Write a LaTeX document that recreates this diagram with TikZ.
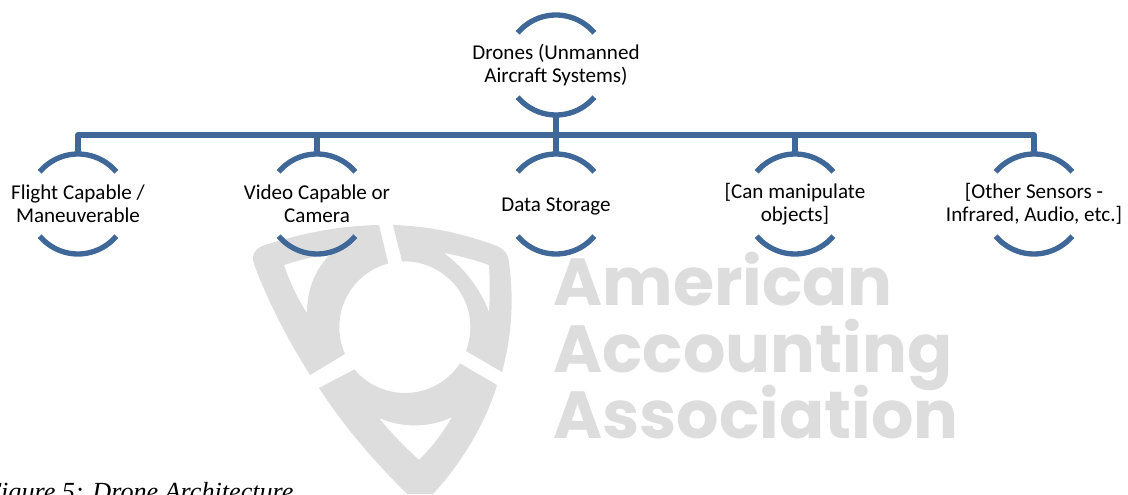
\documentclass[tikz,border=0pt]{standalone}
\usepackage{fontspec}
\setmainfont{Carlito}
\newfontfamily\markfont{Poppins}
\newfontfamily\capfont{Liberation Serif}
\definecolor{rimblue}{HTML}{3F6797}
\definecolor{markgray}{HTML}{DDDDDD}
\tikzset{
	hub/.style={circle,inner sep=0pt,minimum size=75pt},
	rim/.style={draw=rimblue,line width=4pt,line join=round},
	topic/.style={align=center,inner sep=0pt,font=\fontsize{15.8}{17}\selectfont},
	markline/.style={anchor=base west,inner sep=0pt,text=markgray,font=\markfont\bfseries\fontsize{50}{50}\selectfont},
	logopart/.style={fill=markgray,even odd rule}
}
\begin{document}
\begin{tikzpicture}[x=0.75pt,y=0.75pt]
	\useasboundingbox (0,0) rectangle (1128,494);
	% logo, written in picture pixels
	\begin{scope}[yshift=370.5pt,yscale=-1]
		\path[logopart] (379,225) .. controls (335,226) and (300,234) .. (265,245)
			.. controls (255,248) and (251,255) .. (254,264)
			.. controls (268,302) and (288,340) .. (310,375)
			-- (345,354) arc (156:255:66) -- cycle
			(284,265) .. controls (300,260) and (316,256) .. (332,253)
			.. controls (315,268) and (307,290) .. (307,313)
			.. controls (297,298) and (289,280) .. (284,265) -- cycle;
		\path[logopart] (393,225) .. controls (430,226) and (465,234) .. (497,246)
			.. controls (505,250) and (508,254) .. (509,262)
			.. controls (514,300) and (512,335) .. (502,372)
			-- (466,351) arc (21:-92:66) -- cycle
			(444,253) .. controls (460,256) and (475,260) .. (489,265)
			.. controls (490,280) and (490,296) .. (489,312)
			.. controls (480,288) and (464,268) .. (444,253) -- cycle;
		\path[logopart] (319,388) -- (354.4,369.4) arc (140:33.5:66) -- (497,385)
			.. controls (485,425) and (460,465) .. (433,494) -- (407,494)
			.. controls (375,462) and (345,428) .. (319,388) -- cycle
			(379,418) .. controls (402,428) and (430,428) .. (452,417)
			.. controls (443,433) and (432,447) .. (419,460)
			.. controls (405,447) and (391,433) .. (379,418) -- cycle;
	\end{scope}
	\node[markline] (american) at (553,189) {American};
	\node[markline] (accounting) at (553,122) {Accounting};
	\node[markline] (association) at (553,56) {Association};
	% chart
	\node[hub] (root) at (556,429) {};
	\node[hub] (flight) at (78,290) {};
	\node[hub] (video) at (317,290) {};
	\node[hub] (storage) at (556,290) {};
	\node[hub] (manip) at (795,290) {};
	\node[hub] (sensors) at (1034,290) {};
	\coordinate (trunk) at (556,359);
	\node[topic] (root text) at (root) {Drones (Unmanned\\Aircraft Systems)};
	\node[topic] (flight text) at (flight) {Flight Capable /\\Maneuverable};
	\node[topic] (video text) at (video) {Video Capable or\\Camera};
	\node[topic,yshift=-1.5pt] (storage text) at (storage) {Data Storage};
	\node[topic] (manip text) at (manip) {[Can manipulate\\objects]};
	\node[topic] (sensors text) at (sensors) {[Other Sensors -\\Infrared, Audio, etc.]};
	\foreach \n in {root,flight,video,storage,manip,sensors}{
		\draw[rim] ([shift={(140:50)}]\n.center) arc (140:40:50);
		\draw[rim] ([shift={(220:50)}]\n.center) arc (220:320:50);
	}
	\draw[rim] (root.south) -- (storage.north);
	\draw[rim] (flight.north) |- (trunk) -| (sensors.north);
	\draw[rim] (video.north) -- (video.north |- trunk);
	\draw[rim] (manip.north) -- (manip.north |- trunk);
	\node[anchor=base west,inner sep=0pt,font=\capfont\itshape\fontsize{19.6}{22}\selectfont] (caption) at (-15,-6) {Figure 5: Drone Architecture};
\end{tikzpicture}
\end{document}
